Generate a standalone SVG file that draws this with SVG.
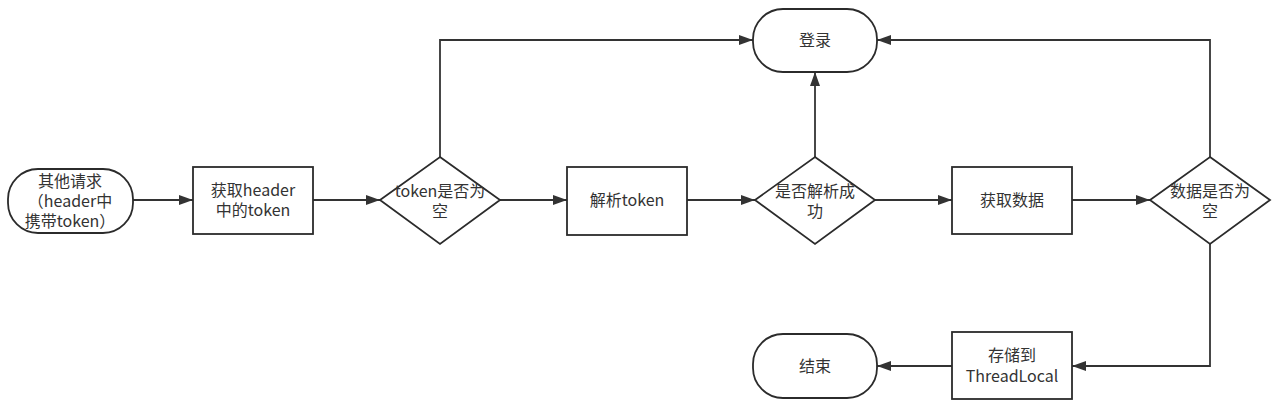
<svg xmlns="http://www.w3.org/2000/svg" width="1283" height="418" viewBox="0 0 1283 418">
<style>
.n{fill:#fff;stroke:#2b2b2b;stroke-width:1.8}
.t{font-family:"Noto Sans CJK SC","Noto Sans",sans-serif;font-size:16px;fill:#333;text-anchor:middle}
.c{fill:none;stroke:#333;stroke-width:1.8}
</style>
<defs>
<marker id="a" viewBox="0 0 14 10" refX="14" refY="5" markerWidth="14" markerHeight="10" markerUnits="userSpaceOnUse" orient="auto">
<path d="M0,0 L14,5 L0,10 Z" fill="#333"/>
</marker>
</defs>
<g id="connectors">
<path class="c" d="M133,200 H193" marker-end="url(#a)"/>
<path class="c" d="M313,200 H380" marker-end="url(#a)"/>
<path class="c" d="M500,200 H567" marker-end="url(#a)"/>
<path class="c" d="M687,200 H755" marker-end="url(#a)"/>
<path class="c" d="M875,200 H952" marker-end="url(#a)"/>
<path class="c" d="M1072,200 H1150" marker-end="url(#a)"/>
<path class="c" d="M440,157 V40 H753" marker-end="url(#a)"/>
<path class="c" d="M815,157 V72" marker-end="url(#a)"/>
<path class="c" d="M1210,157 V40 H877" marker-end="url(#a)"/>
<path class="c" d="M1210,244 V366 H1072" marker-end="url(#a)"/>
<path class="c" d="M952,366 H877" marker-end="url(#a)"/>
</g>
<g id="start">
<rect class="n" x="8" y="169" width="125" height="64" rx="30" ry="30"/>
<text class="t" x="70" y="187">其他请求</text>
<text class="t" x="70" y="207">（header中</text>
<text class="t" x="70" y="227">携带token）</text>
</g>
<g id="getHeader">
<rect class="n" x="193" y="167" width="120" height="67"/>
<text class="t" x="253" y="196">获取header</text>
<text class="t" x="253" y="216">中的token</text>
</g>
<g id="tokenEmpty">
<path class="n" d="M440,157 L500,200 L440,244 L380,200 Z"/>
<text class="t" x="440" y="197">token是否为</text>
<text class="t" x="440" y="217">空</text>
</g>
<g id="parseToken">
<rect class="n" x="567" y="167" width="120" height="68"/>
<text class="t" x="627" y="206">解析token</text>
</g>
<g id="parseOk">
<path class="n" d="M815,157 L875,200 L815,244 L755,200 Z"/>
<text class="t" x="815" y="197">是否解析成</text>
<text class="t" x="815" y="217">功</text>
</g>
<g id="login">
<rect class="n" x="753" y="9" width="124" height="63" rx="30" ry="30"/>
<text class="t" x="815" y="46">登录</text>
</g>
<g id="getData">
<rect class="n" x="952" y="167" width="120" height="67"/>
<text class="t" x="1012" y="206">获取数据</text>
</g>
<g id="dataEmpty">
<path class="n" d="M1210,157 L1270,200 L1210,244 L1150,200 Z"/>
<text class="t" x="1210" y="197">数据是否为</text>
<text class="t" x="1210" y="217">空</text>
</g>
<g id="store">
<rect class="n" x="952" y="332" width="120" height="67"/>
<text class="t" x="1012" y="361">存储到</text>
<text class="t" x="1012" y="382">ThreadLocal</text>
</g>
<g id="end">
<rect class="n" x="753" y="334" width="124" height="64" rx="30" ry="30"/>
<text class="t" x="815" y="372">结束</text>
</g>
</svg>
